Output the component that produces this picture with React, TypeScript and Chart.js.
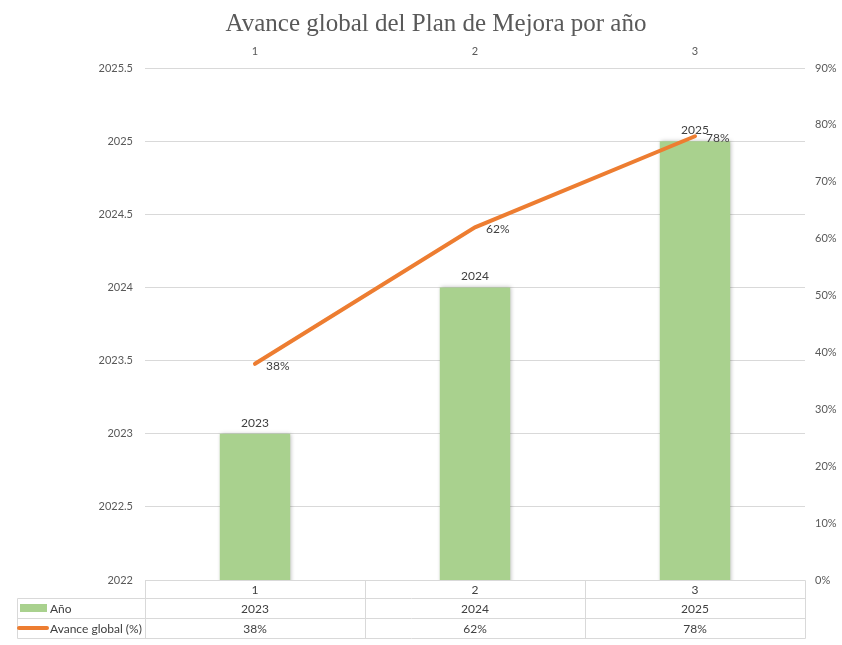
import React, { useEffect, useRef } from "react";
import { Chart, registerables } from "chart.js";

Chart.register(...registerables);

const categories = ["1", "2", "3"];
const years = [2023, 2024, 2025];
const progress = [0.38, 0.62, 0.78];
const leftTicks = [2022, 2022.5, 2023, 2023.5, 2024, 2024.5, 2025, 2025.5];
const titleText = "Avance global del Plan de Mejora por año";
const seriesNames = ["Año", "Avance global (%)"];

const GREEN = "#a9d18e";
const ORANGE = "#ed7d31";
const GRID = "#d9d9d9";
const TICK = "#595959";
const FONT = "Lato, 'Open Sans', sans-serif";

const pct = (v: number) => Math.round(v * 100) + "%";

const titlePlugin = {
  id: "customTitle",
  afterDraw(chart: any) {
    const ctx = chart.ctx;
    ctx.save();
    ctx.fillStyle = TICK;
    ctx.font = "25px 'Liberation Serif', 'Times New Roman', serif";
    ctx.textAlign = "center";
    ctx.textBaseline = "middle";
    ctx.fillText(titleText, 436, 24);
    ctx.restore();
  },
};

const tablePlugin = {
  id: "tablePlugin",
  afterDraw(chart: any) {
    const ctx = chart.ctx;
    const area = chart.chartArea;
    const xs = chart.scales.x;
    const y = chart.scales.y;
    const y1 = chart.scales.y1;
    const n = categories.length;
    const step = (area.right - area.left) / n;
    const rowH = [18, 20, 20];
    const top = area.bottom;
    const r1 = top + rowH[0];
    const r2 = r1 + rowH[1];
    const r3 = r2 + rowH[2];
    const legendLeft = 17;
    ctx.save();
    ctx.strokeStyle = GRID;
    ctx.lineWidth = 1;
    const line = (x0: number, y0: number, x1: number, y1_: number) => {
      ctx.beginPath();
      ctx.moveTo(Math.round(x0) + 0.5, Math.round(y0) + 0.5);
      ctx.lineTo(Math.round(x1) + 0.5, Math.round(y1_) + 0.5);
      ctx.stroke();
    };
    line(area.left, top, area.right, top);
    line(legendLeft, r1, area.right, r1);
    line(legendLeft, r2, area.right, r2);
    line(legendLeft, r3, area.right, r3);
    line(legendLeft, r1, legendLeft, r3);
    for (let i = 0; i <= n; i++) {
      const xx = area.left + i * step;
      line(xx, top, xx, r3);
    }
    ctx.fillStyle = "#404040";
    ctx.font = "12px " + FONT;
    ctx.textAlign = "center";
    ctx.textBaseline = "middle";
    for (let i = 0; i < n; i++) {
      const cx = xs.getPixelForValue(i);
      ctx.fillText(categories[i], cx, (top + r1) / 2 + 1);
      ctx.fillText(String(years[i]), cx, (r1 + r2) / 2 + 1);
      ctx.fillText(pct(progress[i]), cx, (r2 + r3) / 2 + 1);
    }
    // legend keys
    ctx.fillStyle = GREEN;
    ctx.fillRect(20, (r1 + r2) / 2 - 4, 27, 8);
    ctx.strokeStyle = ORANGE;
    ctx.lineWidth = 4;
    ctx.lineCap = "round";
    ctx.beginPath();
    ctx.moveTo(19, (r2 + r3) / 2);
    ctx.lineTo(47, (r2 + r3) / 2);
    ctx.stroke();
    ctx.fillStyle = "#404040";
    ctx.textAlign = "left";
    ctx.fillText(seriesNames[0], 50, (r1 + r2) / 2 + 1);
    ctx.fillText(seriesNames[1], 50, (r2 + r3) / 2 + 1);

    // data labels
    ctx.font = "12px " + FONT;
    ctx.fillStyle = "#404040";
    for (let i = 0; i < n; i++) {
      const cx = xs.getPixelForValue(i);
      ctx.textAlign = "center";
      ctx.textBaseline = "bottom";
      ctx.fillText(String(years[i]), cx, y.getPixelForValue(years[i]) - 5);
      ctx.textAlign = "left";
      ctx.textBaseline = "middle";
      ctx.fillText(pct(progress[i]), cx + 11, y1.getPixelForValue(progress[i]) + 2);
    }
    ctx.restore();
  },
};

const shadowPlugin = {
  id: "shadowPlugin",
  beforeDatasetDraw(chart: any, args: any) {
    if (args.index === 0) {
      chart.ctx.save();
      chart.ctx.shadowColor = "rgba(0,0,0,0.25)";
      chart.ctx.shadowBlur = 4;
      chart.ctx.shadowOffsetX = 1;
      chart.ctx.shadowOffsetY = 0;
    }
  },
  afterDatasetDraw(chart: any, args: any) {
    if (args.index === 0) chart.ctx.restore();
  },
};

export default function App() {
  const ref = useRef<HTMLCanvasElement | null>(null);
  useEffect(() => {
    if (!ref.current) return;
    const chart = new Chart(ref.current, {
      type: "bar",
      data: {
        labels: categories,
        datasets: [
          {
            type: "bar",
            label: seriesNames[0],
            data: years,
            backgroundColor: GREEN,
            xAxisID: "x",
            yAxisID: "y",
            barPercentage: 0.32,
            categoryPercentage: 1,
            order: 2,
          },
          {
            type: "line",
            label: seriesNames[1],
            data: progress,
            borderColor: ORANGE,
            borderWidth: 4,
            borderCapStyle: "round",
            pointRadius: 0,
            xAxisID: "x",
            yAxisID: "y1",
            order: 1,
          } as any,
        ],
      },
      options: {
        animation: false,
        responsive: false,
        maintainAspectRatio: false,
        layout: { padding: { left: 0, right: 0, top: 38, bottom: 65 } },
        plugins: {
          legend: { display: false },
          tooltip: { enabled: false },
          title: { display: false },
        },
        scales: {
          x: {
            type: "category",
            display: false,
            offset: true,
            grid: { display: false },
          },
          x2: {
            type: "category",
            position: "top",
            labels: categories,
            offset: true,
            grid: { display: false, drawTicks: false },
            border: { display: false },
            ticks: { color: TICK, font: { family: FONT, size: 11 }, padding: 10 },
            afterFit(scale: any) {
              scale.height = 30;
            },
          },
          y: {
            type: "linear",
            position: "left",
            min: 2022,
            max: 2025.5,
            afterBuildTicks(scale: any) {
              scale.ticks = leftTicks.map((v) => ({ value: v }));
            },
            grid: { color: GRID, drawTicks: false },
            border: { display: false },
            ticks: {
              color: TICK,
              font: { family: FONT, size: 11 },
              padding: 12,
              callback: (v: any) => String(v),
            },
            afterFit(scale: any) {
              scale.width = 145;
            },
          },
          y1: {
            type: "linear",
            position: "right",
            min: 0,
            max: 0.9,
            grid: { display: false, drawTicks: false },
            border: { display: false },
            ticks: {
              stepSize: 0.1,
              color: TICK,
              font: { family: FONT, size: 11 },
              padding: 10,
              callback: (v: any) => Math.round(Number(v) * 100) + "%",
            },
            afterFit(scale: any) {
              scale.width = 37;
            },
          },
        },
      } as any,
      plugins: [shadowPlugin, tablePlugin, titlePlugin],
    });
    return () => chart.destroy();
  }, []);
  return (
    <div style={{ position: "fixed", left: 0, top: 0, width: 842, height: 645, background: "#fff" }}>
      <canvas ref={ref} width={842} height={645} style={{ width: 842, height: 645 }} />
    </div>
  );
}
